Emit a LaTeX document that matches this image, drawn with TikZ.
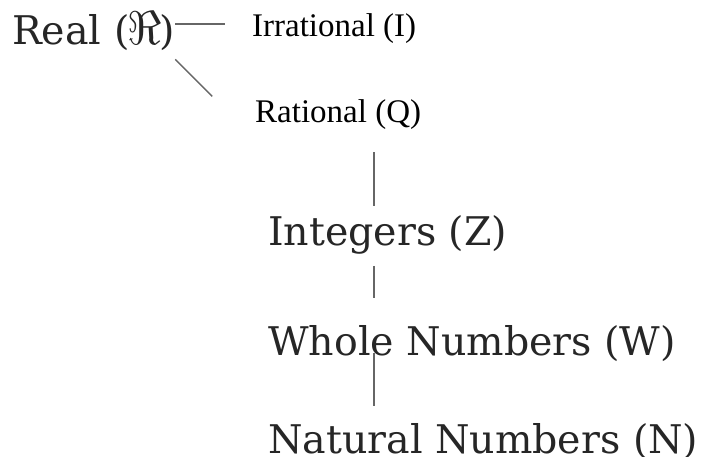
\documentclass[tikz,border=0pt]{standalone}
\usepackage{fontspec}
\usepackage{graphicx}
\usetikzlibrary{calc}
\newfontfamily\setfont{DejaVu Serif}
\newfontfamily\subfont{Liberation Serif}
\newcommand{\frakR}{\kern-2pt\scalebox{1.9}{$\Re$}\kern-2pt}
\begin{document}
\begin{tikzpicture}[x=1pt, y=-1pt,
  set/.style={font=\setfont\fontsize{39.5}{40}\selectfont, text=black!85,
    inner sep=0pt, anchor=base west},
  sub/.style={font=\subfont\fontsize{33}{33}\selectfont, text=black,
    inner sep=0pt, anchor=base west},
  link/.style={draw=black!60, line width=1.3pt}]
  \useasboundingbox (0,0) rectangle (709,457);

  %% -- sets --------------------------------------------------
  \node[set] (real)  at (12,45)   {Real (\frakR)};
  \node[sub] (irr)   at (252,37)  {Irrational (I)};
  \node[sub] (rat)   at (255,123) {Rational (Q)};
  \node[set] (int)   at (268,245) {Integers (Z)};
  \node[set] (whole) at (268,355) {Whole Numbers (W)};
  \node[set] (nat)   at (268,453) {Natural Numbers (N)};

  %% -- links -------------------------------------------------
  \coordinate (spine) at (374,0);
  \draw[link, shorten >=27pt] (real.east |- 0,24) -- (irr.west |- 0,24);
  \draw[link] (real.south east) ++(0,8) -- ++(37,37);
  \draw[link] (rat.south -| spine) ++(0,22) -- ($(int.north -| spine)+(0,-9)$);
  \draw[link] (int.south -| spine) ++(0,12) -- ($(whole.north -| spine)+(0,-27)$);
  \draw[link] (whole.south -| spine) ++(0,-8) -- ($(nat.north -| spine)+(0,-17)$);
\end{tikzpicture}
\end{document}
